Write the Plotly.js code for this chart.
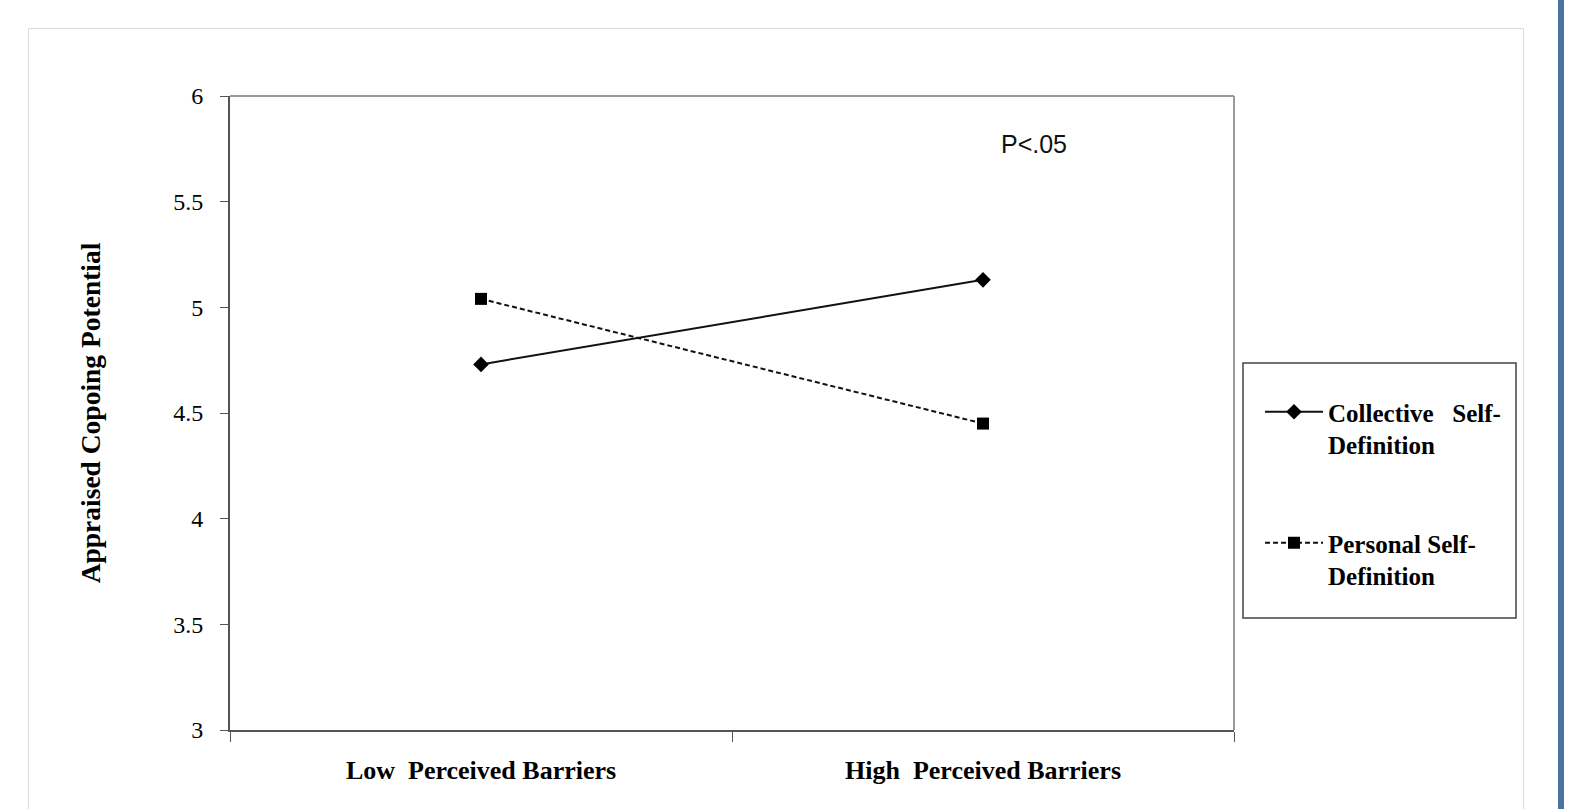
<!DOCTYPE html>
<html>
<head>
<meta charset="utf-8">
<script src="https://cdn.plot.ly/plotly-3.0.1.min.js"></script>
<style>
  html, body { margin: 0; padding: 0; background: #ffffff; overflow: hidden; }
  #frame { position: absolute; left: 28px; top: 28px; width: 1496px; height: 820px; border: 1px solid #dcdcdc; box-sizing: border-box; }
  #bar { position: absolute; left: 1558px; top: 0; width: 6px; height: 809px; background: #4a73a1; }
  #chart { position: absolute; left: 0; top: 0; width: 1590px; height: 809px; }
</style>
</head>
<body>
<div id="frame"></div>
<div id="bar"></div>
<div id="chart"></div>
<script>
// ---- data ----
const categories = ["Low\u00a0 Perceived Barriers", "High\u00a0 Perceived Barriers"];
const collectiveValues = [4.73, 5.13];
const personalValues = [5.04, 4.45];
const seriesNames = ["Collective\u00a0\u00a0\u00a0Self-<br>Definition", "Personal Self-<br>Definition"];
const yTickValues = [3, 3.5, 4, 4.5, 5, 5.5, 6];
const yTickLabels = ["3", "3.5", "4", "4.5", "5", "5.5", "6"];
const yAxisTitle = "Appraised Copoing Potential";
const noteText = "P<.05";

const serif = "Liberation Serif";

const traces = [
  {
    x: categories, y: collectiveValues, name: seriesNames[0],
    type: "scatter", mode: "lines+markers", legendgroup: "a",
    line: { color: "#111", width: 2 },
    marker: { symbol: "diamond", size: 12, color: "#000" }
  },
  {
    x: categories, y: personalValues, name: seriesNames[1],
    type: "scatter", mode: "lines+markers", legendgroup: "b",
    line: { color: "#111", width: 2, dash: "5px,3px" },
    marker: { symbol: "square", size: 12, color: "#000" }
  }
];

const L = 230, R = 1234, T = 96, B = 730;
const W = R - L, H = B - T;
const px = v => (v - L) / W;
const py = v => (B - v) / H;

const layout = {
  width: 1590, height: 809,
  margin: { l: L, r: 1590 - R, t: T, b: 809 - B, pad: 0 },
  paper_bgcolor: "rgba(0,0,0,0)",
  plot_bgcolor: "rgba(0,0,0,0)",
  showlegend: true,
  font: { family: serif, color: "#000", size: 23 },
  xaxis: {
    type: "category", range: [-0.5, 1.5],
    showline: true, linecolor: "#555", linewidth: 2,
    ticks: "outside", tickson: "boundaries", ticklen: 10, tickcolor: "#555", tickwidth: 1,
    showgrid: false, zeroline: false,
    tickfont: { family: serif, size: 26, color: "#000", weight: "bold" },
    ticklabelstandoff: 16
  },
  yaxis: {
    range: [3, 6], tickmode: "array", tickvals: yTickValues, ticktext: yTickLabels,
    showline: true, linecolor: "#555", linewidth: 2,
    ticks: "outside", ticklen: 8, tickcolor: "#555", tickwidth: 1,
    showgrid: false, zeroline: false,
    tickfont: { family: serif, size: 24, color: "#000" },
    ticklabelstandoff: 12,
    title: { text: yAxisTitle, font: { family: serif, size: 27.5, color: "#000", weight: "bold" }, standoff: 65 }
  },
  legend: {
    x: px(1260), y: py(389), xanchor: "left", yanchor: "top",
    bgcolor: "rgba(0,0,0,0)", borderwidth: 0,
    traceorder: "grouped", tracegroupgap: 63, valign: "top",
    itemwidth: 58,
    font: { family: serif, size: 25, color: "#000", weight: "bold" }
  },
  shapes: [
    { type: "line", xref: "paper", yref: "paper", x0: 0, x1: 1, y0: 1, y1: 1, line: { color: "#999", width: 2 } },
    { type: "line", xref: "paper", yref: "paper", x0: 1, x1: 1, y0: 0, y1: 1, line: { color: "#999", width: 2 } },
    { type: "rect", xref: "paper", yref: "paper", x0: px(1243), x1: px(1516), y0: py(618), y1: py(363), line: { color: "#444", width: 1.5 } }
  ],
  annotations: [
    { text: noteText, xref: "paper", yref: "paper", x: px(1034), y: py(144), xanchor: "center", yanchor: "middle",
      showarrow: false, font: { family: "Liberation Sans", size: 25, color: "#111" } }
  ]
};

Plotly.newPlot("chart", traces, layout, { displayModeBar: false, staticPlot: true });
</script>
</body>
</html>
